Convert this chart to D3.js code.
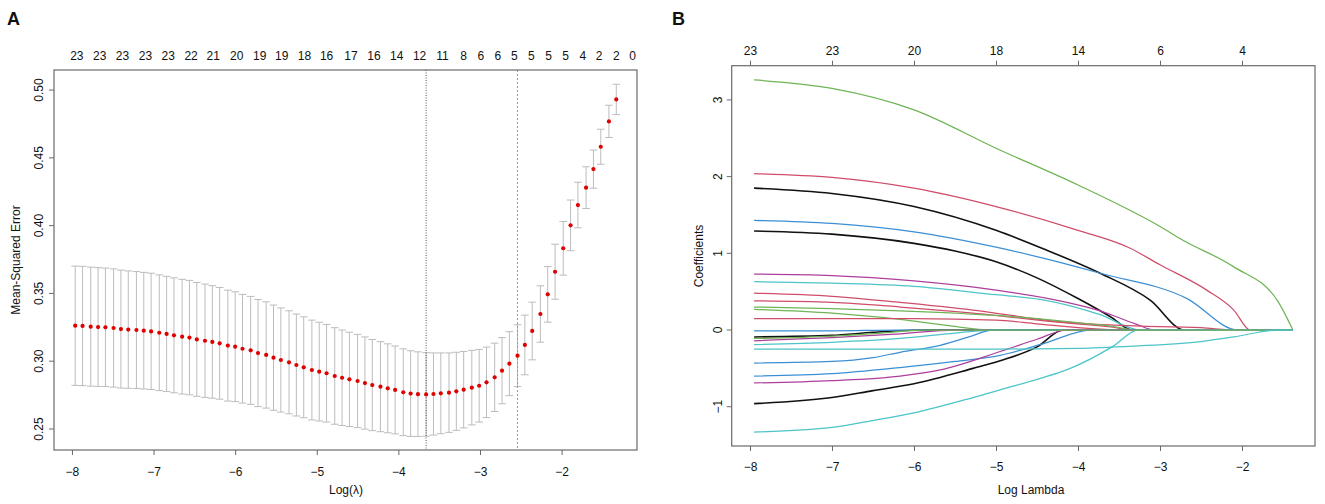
<!DOCTYPE html>
<html><head><meta charset="utf-8">
<script src="https://cdn.jsdelivr.net/npm/d3@7"></script>
<style>
body{margin:0;background:#fff}
svg{display:block}
text{font-family:"Liberation Sans",Arial,Helvetica,sans-serif;fill:#111}
</style>
</head><body>
<svg id="c" width="1325" height="504"></svg>
<script>
// ---------- Panel A data (cross-validation curve) ----------
const logLambda = [-7.96,-7.87,-7.77,-7.68,-7.59,-7.49,-7.40,-7.31,-7.21,-7.12,
  -7.03,-6.93,-6.84,-6.75,-6.65,-6.56,-6.47,-6.37,-6.28,-6.19,
  -6.09,-6.00,-5.91,-5.81,-5.72,-5.62,-5.53,-5.44,-5.34,-5.25,
  -5.16,-5.06,-4.97,-4.88,-4.78,-4.69,-4.60,-4.50,-4.41,-4.32,
  -4.22,-4.13,-4.04,-3.94,-3.85,-3.76,-3.66,-3.57,-3.48,-3.38,
  -3.29,-3.20,-3.10,-3.01,-2.92,-2.82,-2.73,-2.64,-2.54,-2.45,
  -2.36,-2.26,-2.17,-2.08,-1.98,-1.89,-1.80,-1.70,-1.61,-1.52,-1.42,-1.33];
const cvMean = [0.3262,0.3260,0.3255,0.3252,0.3250,0.3245,0.3237,0.3233,0.3230,0.3225,
  0.3220,0.3210,0.3201,0.3191,0.3181,0.3174,0.3161,0.3151,0.3142,0.3132,
  0.3115,0.3107,0.3092,0.3080,0.3060,0.3046,0.3026,0.3009,0.2992,0.2972,
  0.2955,0.2935,0.2923,0.2911,0.2891,0.2878,0.2866,0.2854,0.2839,0.2824,
  0.2812,0.2800,0.2788,0.2771,0.2761,0.2757,0.2755,0.2758,0.2763,0.2768,
  0.2778,0.2790,0.2805,0.2819,0.2844,0.2881,0.2930,0.2982,0.3041,0.3120,
  0.3223,0.3348,0.3493,0.3660,0.3833,0.4002,0.4152,0.4280,0.4417,0.4582,0.4769,0.4931];
const cvSE = [0.0440,0.0440,0.0439,0.0438,0.0437,0.0436,0.0435,0.0433,0.0431,0.0430,
  0.0429,0.0427,0.0425,0.0424,0.0423,0.0422,0.0420,0.0418,0.0415,0.0412,
  0.0409,0.0405,0.0401,0.0398,0.0395,0.0392,0.0388,0.0384,0.0380,0.0376,
  0.0372,0.0368,0.0364,0.0360,0.0356,0.0352,0.0348,0.0344,0.0340,0.0336,
  0.0332,0.0328,0.0324,0.0320,0.0316,0.0312,0.0308,0.0303,0.0298,0.0293,
  0.0288,0.0282,0.0275,0.0268,0.0260,0.0252,0.0244,0.0236,0.0228,0.0220,
  0.0213,0.0208,0.0205,0.0203,0.0198,0.0187,0.0168,0.0154,0.0141,0.0129,0.0119,0.0112];
const lambdaMinLog = -3.66;
const lambda1seLog = -2.54;
const topLabelsA = ["23","23","23","23","23","22","21","20","19","19","18","16","17","16","14","12","11","8","6","6","5","5","5","5","4","2","2","0"];
const topLabelPosA = [-7.94,-7.66,-7.38,-7.10,-6.82,-6.54,-6.27,-5.98,-5.70,-5.43,-5.15,-4.88,-4.58,-4.30,-4.02,-3.74,-3.46,-3.20,-2.99,-2.78,-2.58,-2.37,-2.16,-1.95,-1.74,-1.54,-1.33,-1.13];
const xTicksA = [-8,-7,-6,-5,-4,-3,-2];
const yTicksA = [0.25,0.30,0.35,0.40,0.45,0.50];

// ---------- Panel B data (coefficient paths) ----------
const xTicksB = [-8,-7,-6,-5,-4,-3,-2];
const topLabelsB = ["23","23","20","18","14","6","4"];
const yTicksB = [-1,0,1,2,3];
const pathColorKeys = ["K","K","K","K","G","R","B","M","C","R","R","G","G","R","B","M","C","B","B","M","C","G","C"];
const pathPoints = [
  [[-7.95,1.85],[-7,1.78],[-6,1.61],[-5,1.30],[-4.38,1.04],[-3.73,0.74],[-3.12,0.39],[-2.7,0],[-1.38,0]],
  [[-7.95,1.29],[-7,1.25],[-6,1.13],[-5.5,1.03],[-5,0.89],[-4.5,0.68],[-4,0.41],[-3.6,0.17],[-3.34,0],[-1.38,0]],
  [[-7.95,-0.09],[-7,-0.07],[-6.5,-0.03],[-5.85,0],[-1.38,0]],
  [[-7.95,-0.96],[-7,-0.88],[-6.5,-0.79],[-6,-0.70],[-5.28,-0.50],[-4.95,-0.40],[-4.5,-0.22],[-4.18,0],[-1.38,0]],
  [[-7.95,3.26],[-7,3.15],[-6,2.87],[-5,2.37],[-4,1.89],[-3,1.35],[-2.72,1.17],[-2.11,0.83],[-1.56,0.37],[-1.38,0]],
  [[-7.95,2.04],[-7,1.99],[-6,1.85],[-5,1.61],[-4,1.30],[-3.37,1.07],[-3,0.85],[-2.43,0.52],[-2.1,0.26],[-1.9,0],[-1.38,0]],
  [[-7.95,1.43],[-7,1.39],[-6,1.28],[-5,1.08],[-4.4,0.93],[-3.73,0.74],[-2.67,0.41],[-2.05,0],[-1.38,0]],
  [[-7.95,0.73],[-7,0.71],[-6,0.64],[-5,0.52],[-4.22,0.38],[-3.73,0.25],[-3.3,0.08],[-3.06,0],[-1.38,0]],
  [[-7.95,0.63],[-7,0.61],[-6,0.57],[-5,0.46],[-4.46,0.40],[-3.73,0.2],[-3.24,0],[-1.38,0]],
  [[-7.95,0.48],[-7,0.44],[-6.17,0.36],[-5.28,0.26],[-4.22,0.11],[-3.5,0.06],[-2.5,0.03],[-2.05,0],[-1.38,0]],
  [[-7.95,0.38],[-7,0.36],[-6.17,0.30],[-5.28,0.22],[-4.22,0.10],[-3.6,0.04],[-3.3,0],[-1.38,0]],
  [[-7.95,0.30],[-7,0.28],[-6.17,0.25],[-5,0.19],[-4.22,0.12],[-3.6,0.05],[-3.27,0],[-1.38,0]],
  [[-7.95,0.27],[-7,0.22],[-6.17,0.14],[-5.6,0.06],[-5.04,0],[-1.38,0]],
  [[-7.95,0.15],[-7,0.15],[-6,0.15],[-5,0.13],[-4.5,0.08],[-4.0,0.03],[-3.5,0],[-1.38,0]],
  [[-7.95,-0.01],[-7,-0.01],[-6.2,0],[-1.38,0]],
  [[-7.95,-0.14],[-7,-0.10],[-6.17,-0.05],[-5.5,0],[-1.38,0]],
  [[-7.95,-0.19],[-7,-0.16],[-6.17,-0.11],[-5.5,-0.04],[-5.0,0],[-1.38,0]],
  [[-7.95,-0.43],[-7,-0.41],[-6.5,-0.36],[-6.17,-0.29],[-5.68,-0.2],[-5.3,-0.08],[-5.05,0],[-1.38,0]],
  [[-7.95,-0.60],[-7,-0.57],[-6.17,-0.49],[-5.5,-0.41],[-4.95,-0.33],[-4.4,-0.17],[-3.85,0],[-1.38,0]],
  [[-7.95,-0.69],[-7,-0.66],[-6.17,-0.60],[-5.68,-0.52],[-4.95,-0.28],[-4.5,-0.12],[-4.14,0],[-1.38,0]],
  [[-7.95,-1.33],[-7,-1.27],[-6.5,-1.18],[-6,-1.08],[-5.28,-0.88],[-4.95,-0.78],[-4.46,-0.63],[-4.14,-0.52],[-3.57,-0.21],[-3.27,0],[-1.38,0]],
  [[-7.95,-0.11],[-7,-0.08],[-6.4,-0.04],[-5.9,0],[-1.38,0]],
  [[-7.95,-0.25],[-7,-0.25],[-6,-0.25],[-5,-0.25],[-4,-0.24],[-3.33,-0.21],[-2.5,-0.15],[-2.1,-0.09],[-1.57,0],[-1.38,0]]
];

// ---------- styles ----------
const palette = {K:"#111111", R:"#cf4d69", G:"#6fb456", B:"#3d8fd4", C:"#4cc4c8", M:"#ad3f9c"};
const boxColor = "#6a6a6a";
const fontSize = 12;

const svg = d3.select("#c");

// ================= Panel A =================
const xA = d3.scaleLinear().domain([-8.22, -1.076]).range([54, 637]);
const yA = d3.scaleLinear().domain([0.2345, 0.5148]).range([450, 70]);
const gA = svg.append("g");

// error bars
const capW = 3.8;
const bars = gA.append("g").attr("stroke", "#bcbcbc").attr("stroke-width", 1).attr("fill", "none");
logLambda.forEach((L, i) => {
  const x = xA(L), yt = yA(cvMean[i] + cvSE[i]), yb = yA(cvMean[i] - cvSE[i]);
  bars.append("line").attr("x1", x).attr("x2", x).attr("y1", yt).attr("y2", yb);
  bars.append("line").attr("x1", x - capW).attr("x2", x + capW).attr("y1", yt).attr("y2", yt);
  bars.append("line").attr("x1", x - capW).attr("x2", x + capW).attr("y1", yb).attr("y2", yb);
});

// vertical dotted lines
gA.append("line").attr("x1", xA(lambdaMinLog)).attr("x2", xA(lambdaMinLog))
  .attr("y1", 70).attr("y2", 450)
  .attr("stroke", "#555").attr("stroke-width", 1).attr("stroke-dasharray", "1,1.5");
gA.append("line").attr("x1", xA(lambda1seLog)).attr("x2", xA(lambda1seLog))
  .attr("y1", 70).attr("y2", 450)
  .attr("stroke", "#9a9a9a").attr("stroke-width", 1).attr("stroke-dasharray", "2,2");

// points
gA.append("g").selectAll("circle").data(logLambda).join("circle")
  .attr("cx", d => xA(d)).attr("cy", (d, i) => yA(cvMean[i])).attr("r", 2.1)
  .attr("fill", "#e00000");

// box
gA.append("rect").attr("x", 54).attr("y", 70).attr("width", 637 - 54).attr("height", 450 - 70)
  .attr("fill", "none").attr("stroke", boxColor).attr("stroke-width", 1.2);

// bottom axis
const axA = d3.axisBottom(xA).tickValues(xTicksA).tickSize(5).tickPadding(12)
  .tickFormat(d => d3.format("d")(d));
const gxA = gA.append("g").attr("transform", "translate(0,450)").call(axA);
gxA.select(".domain").remove();
gxA.selectAll("line").attr("stroke", boxColor);
gxA.selectAll("text").attr("font-size", fontSize).attr("fill", "#111").attr("font-family", "Liberation Sans, Arial, sans-serif");

// left axis (rotated labels, R style)
yTicksA.forEach(v => {
  gA.append("line").attr("x1", 49).attr("x2", 54).attr("y1", yA(v)).attr("y2", yA(v)).attr("stroke", boxColor);
  gA.append("text").attr("transform", `translate(42.5,${yA(v)}) rotate(-90)`)
    .attr("text-anchor", "middle").attr("font-size", fontSize).text(d3.format(".2f")(v));
});

// top labels
topLabelPosA.forEach((L, i) => {
  gA.append("text").attr("x", xA(L)).attr("y", 59.5).attr("text-anchor", "middle")
    .attr("font-size", fontSize).text(topLabelsA[i]);
});

// titles
gA.append("text").attr("transform", `translate(19.5,260) rotate(-90)`).attr("text-anchor", "middle")
  .attr("font-size", fontSize).text("Mean-Squared Error");
gA.append("text").attr("x", 346).attr("y", 494).attr("text-anchor", "middle")
  .attr("font-size", fontSize).text("Log(\u03BB)");
svg.append("text").attr("x", 7).attr("y", 25).attr("font-size", 18).attr("font-weight", "bold").text("A");

// ================= Panel B =================
const xB = d3.scaleLinear().domain([-8.223, -1.110]).range([731.7, 1315]);
const yB = d3.scaleLinear().domain([-1.512, 3.446]).range([446, 65.7]);
const gB = svg.append("g");

const line = d3.line().x(d => xB(d[0])).y(d => yB(d[1])).curve(d3.curveMonotoneX);
gB.append("g").selectAll("path").data(pathPoints).join("path")
  .attr("d", d => line(d))
  .attr("fill", "none")
  .attr("stroke", (d, i) => palette[pathColorKeys[i]])
  .attr("stroke-width", (d, i) => pathColorKeys[i] === "K" ? 1.6 : 1.25);

// box
gB.append("rect").attr("x", 731.7).attr("y", 65.7).attr("width", 1315 - 731.7).attr("height", 446 - 65.7)
  .attr("fill", "none").attr("stroke", boxColor).attr("stroke-width", 1.2);

// bottom axis
const axB = d3.axisBottom(xB).tickValues(xTicksB).tickSize(5).tickPadding(11.5)
  .tickFormat(d => d3.format("d")(d));
const gxB = gB.append("g").attr("transform", "translate(0,446)").call(axB);
gxB.select(".domain").remove();
gxB.selectAll("line").attr("stroke", boxColor);
gxB.selectAll("text").attr("font-size", fontSize).attr("fill", "#111").attr("font-family", "Liberation Sans, Arial, sans-serif");

// top axis with df labels
const axBT = d3.axisTop(xB).tickValues(xTicksB).tickSize(5).tickPadding(6)
  .tickFormat((d, i) => topLabelsB[i]);
const gxBT = gB.append("g").attr("transform", "translate(0,65.7)").call(axBT);
gxBT.select(".domain").remove();
gxBT.selectAll("line").attr("stroke", boxColor);
gxBT.selectAll("text").attr("font-size", fontSize).attr("fill", "#111").attr("font-family", "Liberation Sans, Arial, sans-serif");

// left axis
yTicksB.forEach(v => {
  gB.append("line").attr("x1", 726.7).attr("x2", 731.7).attr("y1", yB(v)).attr("y2", yB(v)).attr("stroke", boxColor);
  gB.append("text").attr("transform", `translate(721.5,${yB(v)}) rotate(-90)`)
    .attr("text-anchor", "middle").attr("font-size", fontSize).text(d3.format("d")(v));
});

// titles
gB.append("text").attr("transform", `translate(702.5,256) rotate(-90)`).attr("text-anchor", "middle")
  .attr("font-size", fontSize).text("Coefficients");
gB.append("text").attr("x", 1031).attr("y", 494).attr("text-anchor", "middle")
  .attr("font-size", fontSize).text("Log Lambda");
svg.append("text").attr("x", 672).attr("y", 25).attr("font-size", 18).attr("font-weight", "bold").text("B");
</script>
</body></html>
